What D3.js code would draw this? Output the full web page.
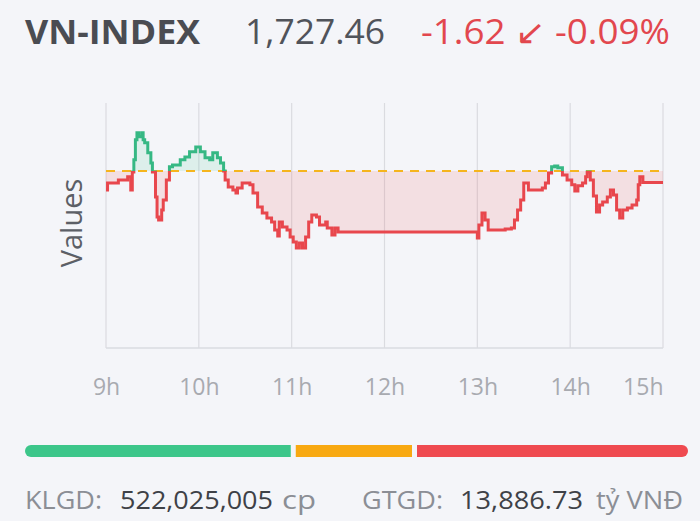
<!DOCTYPE html>
<html>
<head>
<meta charset="utf-8">
<script src="https://cdn.jsdelivr.net/npm/d3@7/dist/d3.min.js"></script>
<style>
  html, body { margin: 0; padding: 0; background: #f4f5f9; }
  svg { display: block; font-family: "Open Sans", "Noto Sans", sans-serif; }
</style>
</head>
<body>
<div id="wrapper"></div>
<script>
// header numbers
const indexName = "VN-INDEX"
const lastPrice = "1,727.46"
const change = "-1.62"
const changePct = "-0.09%"
const refPrice = 1729.08

// intraday series (time, index value)
const times = [
  "09:00","09:01","09:08","09:14","09:16","09:17","09:18","09:19","09:20","09:21","09:23","09:24","09:25","09:27","09:29","09:30","09:32","09:33","09:34","09:36","09:37","09:39","09:41","09:43","09:48","09:51","09:54","09:58",
  "10:01","10:04","10:07","10:09","10:12","10:14","10:16","10:17","10:19","10:22","10:24","10:25","10:28","10:33","10:35","10:38","10:41","10:44","10:47","10:49","10:51","10:52","10:54","10:57","10:59",
  "11:01","11:03","11:05","11:07","11:09","11:11","11:13","11:16","11:18","11:22","11:23","11:26","11:28","11:30",
  "13:00","13:01","13:03","13:05","13:07","13:18","13:22","13:24","13:26","13:28","13:30","13:33","13:42","13:44","13:46","13:48","13:50","13:52","13:55","13:58",
  "14:01","14:03","14:05","14:08","14:10","14:11","14:13","14:15","14:17","14:19","14:21","14:24","14:26","14:28","14:30","14:32","14:34","14:37","14:40","14:43","14:44","14:45","14:47","15:00"
]
const values = [
  1726.44,1727.41,1727.83,1728.25,1726.44,1728.94,1730.61,1733.40,1734.36,1733.80,1734.36,1733.40,1732.97,1731.58,1730.19,1728.94,1725.47,1722.69,1722.27,1723.66,1725.05,1727.83,1729.64,1729.91,1730.61,1731.00,1731.72,1732.41,
  1731.72,1730.89,1730.61,1731.58,1730.89,1730.19,1729.08,1727.83,1726.86,1726.44,1726.02,1726.72,1727.41,1727.14,1726.02,1724.08,1723.25,1722.55,1722.00,1720.89,1720.05,1722.00,1721.30,1720.89,1719.91,
  1719.22,1718.39,1719.08,1718.39,1719.91,1722.00,1722.97,1722.69,1721.58,1722.00,1721.16,1720.19,1721.16,1720.61,
  1719.77,1721.58,1723.25,1722.27,1720.89,1721.02,1721.16,1722.27,1723.66,1725.05,1727.41,1726.44,1726.72,1727.41,1728.80,1729.64,1729.77,1729.50,1728.52,1727.83,
  1727.14,1726.30,1727.00,1727.41,1728.25,1728.94,1727.83,1725.61,1723.39,1724.36,1724.77,1725.47,1726.44,1725.75,1723.66,1722.55,1723.66,1723.94,1724.36,1725.05,1727.14,1728.25,1727.46,1727.46
]

// hour ticks
const hourTicks = ["09:00","10:00","11:00","12:00","13:00","14:00","15:00"]
const hourLabels = ["9h","10h","11h","12h","13h","14h","15h"]

// market breadth bar (share of stocks: up, unchanged, down)
const breadthKeys = ["up","flat","down"]
const breadthShares = [40.7, 17.8, 41.5]
const breadthColors = ["#3cc68a","#f8a912","#ef4a50"]

// footer
const volume = "522,025,005"
const turnover = "13,886.73"

const parseTime = d3.timeParse("%H:%M")
const dataset = times.map((t, i) => ({ time: parseTime(t), value: values[i] }))

const dimensions = {
  width: 700,
  height: 521,
  margin: { top: 103, right: 37, bottom: 173, left: 106 },
}
dimensions.boundedWidth = dimensions.width - dimensions.margin.left - dimensions.margin.right
dimensions.boundedHeight = dimensions.height - dimensions.margin.top - dimensions.margin.bottom

const svg = d3.select("#wrapper").append("svg")
  .attr("width", dimensions.width)
  .attr("height", dimensions.height)

svg.append("rect").attr("width", dimensions.width).attr("height", dimensions.height).attr("fill", "#f4f5f9")

// small helper: text piece stretched to the width seen in the picture
function addText(parent, x, y, size, color, str, len, weight) {
  return parent.append("text")
    .attr("x", x).attr("y", y)
    .attr("font-size", size)
    .attr("font-weight", weight || 400)
    .attr("fill", color)
    .attr("textLength", len)
    .attr("lengthAdjust", "spacingAndGlyphs")
    .text(str)
}

// header
addText(svg, 25, 44, 34, "#4a4c52", indexName, 175, 700)
addText(svg, 245, 44, 34, "#50535a", lastPrice, 140)
addText(svg, 421, 44, 34, "#e2474e", `${change} \u2199 ${changePct}`, 249)

const bounds = svg.append("g")
  .attr("transform", `translate(${dimensions.margin.left},${dimensions.margin.top})`)

const xScale = d3.scaleTime()
  .domain([parseTime("09:00"), parseTime("15:00")])
  .range([0, dimensions.boundedWidth])

const yScale = d3.scaleLinear()
  .domain([1704.5, 1738.5])
  .range([dimensions.boundedHeight, 0])

// grid
bounds.append("g").selectAll("line")
  .data(hourTicks)
  .join("line")
  .attr("x1", d => xScale(parseTime(d)))
  .attr("x2", d => xScale(parseTime(d)))
  .attr("y1", 0)
  .attr("y2", dimensions.boundedHeight)
  .attr("stroke", "#dadbe0")
  .attr("stroke-width", 1.2)

bounds.append("line")
  .attr("x1", 0).attr("x2", dimensions.boundedWidth)
  .attr("y1", dimensions.boundedHeight).attr("y2", dimensions.boundedHeight)
  .attr("stroke", "#dadbe0").attr("stroke-width", 1.5)

// x axis labels
const xAxis = bounds.append("g")
  .attr("transform", `translate(0,${dimensions.boundedHeight})`)
  .call(d3.axisBottom(xScale)
    .tickValues(hourTicks.map(parseTime))
    .tickFormat((d, i) => hourLabels[i])
    .tickSize(0)
    .tickPadding(31))
xAxis.select(".domain").remove()
xAxis.selectAll("text")
  .attr("font-size", 23)
  .attr("font-family", "Open Sans, sans-serif")
  .attr("fill", "#a8aab0")
  .attr("text-anchor", (d, i) => i === hourTicks.length - 1 ? "end" : "middle")

// y label
svg.append("text")
  .attr("transform", "translate(82,223) rotate(-90)")
  .attr("text-anchor", "middle")
  .attr("font-size", 29)
  .attr("fill", "#5c5f66")
  .text("Values")

// above / below reference clips
const refY = yScale(refPrice)
const defs = svg.append("defs")
defs.append("clipPath").attr("id", "clip-up")
  .append("rect").attr("x", -5).attr("y", -20).attr("width", dimensions.boundedWidth + 10).attr("height", refY + 20)
defs.append("clipPath").attr("id", "clip-down")
  .append("rect").attr("x", -5).attr("y", refY).attr("width", dimensions.boundedWidth + 10).attr("height", dimensions.boundedHeight)

const areaGenerator = d3.area()
  .curve(d3.curveStepAfter)
  .x(d => xScale(d.time))
  .y0(refY)
  .y1(d => yScale(d.value))

const lineGenerator = d3.line()
  .curve(d3.curveStepAfter)
  .x(d => xScale(d.time))
  .y(d => yScale(d.value))

const sides = [
  { clip: "clip-up", fill: "rgba(60,198,138,0.12)", stroke: "#36b884" },
  { clip: "clip-down", fill: "rgba(239,74,80,0.13)", stroke: "#e8474d" },
]

sides.forEach(s => {
  const g = bounds.append("g").attr("clip-path", `url(#${s.clip})`)
  g.append("path").datum(dataset).attr("d", areaGenerator).attr("fill", s.fill)
})

// reference line
bounds.append("line")
  .attr("x1", 0).attr("x2", dimensions.boundedWidth)
  .attr("y1", refY).attr("y2", refY)
  .attr("stroke", "#f5b51e")
  .attr("stroke-width", 2)
  .attr("stroke-dasharray", "9 7")

sides.forEach(s => {
  const g = bounds.append("g").attr("clip-path", `url(#${s.clip})`)
  g.append("path").datum(dataset).attr("d", lineGenerator)
    .attr("fill", "none")
    .attr("stroke", s.stroke)
    .attr("stroke-width", 3)
})

// breadth bar
const barX = 25, barW = 663, barY = 445, barH = 12, gap = 5
const shareScale = d3.scaleLinear()
  .domain([0, d3.sum(breadthShares)])
  .range([0, barW - gap * (breadthShares.length - 1)])
defs.append("clipPath").attr("id", "clip-bar")
  .append("rect").attr("x", barX).attr("y", barY).attr("width", barW).attr("height", barH).attr("rx", barH / 2)
const offsets = d3.cumsum([0, ...breadthShares.slice(0, -1)])
svg.append("g").attr("clip-path", "url(#clip-bar)")
  .selectAll("rect")
  .data(breadthKeys)
  .join("rect")
  .attr("x", (d, i) => barX + shareScale(offsets[i]) + i * gap)
  .attr("y", barY)
  .attr("width", (d, i) => shareScale(breadthShares[i]))
  .attr("height", barH)
  .attr("fill", (d, i) => breadthColors[i])

// footer
addText(svg, 25, 509, 26, "#8b8e95", "KLGD:", 77)
addText(svg, 120, 509, 26, "#3e4147", volume, 153)
addText(svg, 282, 509, 26, "#8b8e95", "cp", 34)
addText(svg, 362, 509, 26, "#8b8e95", "GTGD:", 81)
addText(svg, 460, 509, 26, "#3e4147", turnover, 123)
addText(svg, 596, 509, 26, "#8b8e95", "tỷ VNĐ", 87)
</script>
</body>
</html>
